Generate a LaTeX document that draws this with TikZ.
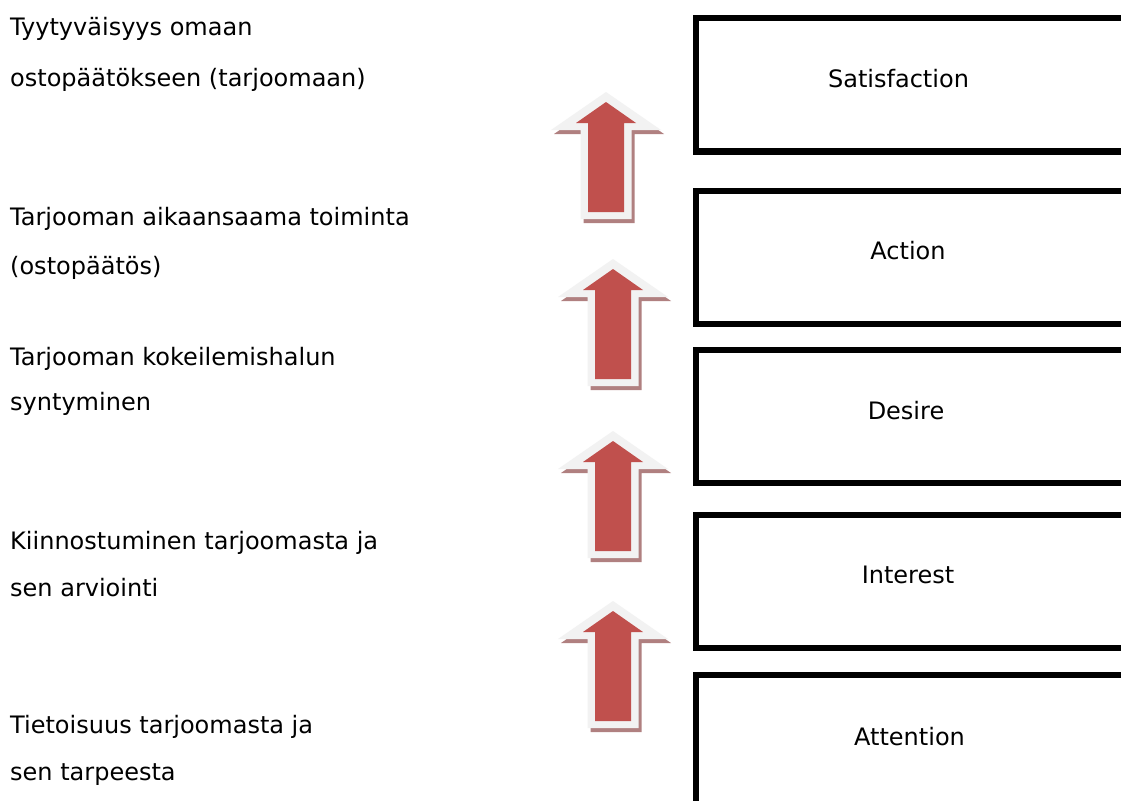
\documentclass[tikz,border=0pt]{standalone}
\usepackage{fontspec}
\setmainfont{DejaVu Sans}
\definecolor{arrowred}{HTML}{C0504D}
\definecolor{arrowrim}{HTML}{F2F2F2}
\definecolor{arrowshade}{RGB}{176,128,128}

% one upward block arrow: #1 = centre x, #2 = tip y
\newcommand{\aidaarrow}[2]{%
  \begin{scope}[shift={(#1,#2)}]
    \fill[arrowshade] (3,4) -- (58,42) -- (28.5,42) -- (28.5,131) -- (-22.5,131)
      -- (-22.5,42) -- (-52,42) -- cycle;
    \fill[arrowrim] (0,0) -- (55,38) -- (25.5,38) -- (25.5,127) -- (-25.5,127)
      -- (-25.5,38) -- (-55,38) -- cycle;
    \fill[arrowred] (0,10) -- (30,31) -- (18,31) -- (18,120) -- (-18,120)
      -- (-18,31) -- (-30,31) -- cycle;
  \end{scope}}

\tikzset{
  stagebox/.style={draw=black, line width=6.5pt, rectangle, anchor=north west,
    minimum width=440pt, minimum height=133pt, inner sep=0pt},
  stagelabel/.style={anchor=base, inner sep=0pt, font=\fontsize{24}{29}\selectfont},
  desc/.style={anchor=base west, inner sep=0pt, font=\fontsize{24}{29}\selectfont},
}

\begin{document}
\begin{tikzpicture}[x=1pt, y=-1pt]
  \useasboundingbox (0,0) rectangle (1121,800);
  \clip (0,0) rectangle (1121,800);
  \fill[white] (0,0) rectangle (1121,800);

  % stage boxes
  \node[stagebox] (bsat) at (692.5,15) {};
  \node[stagebox] (bact) at (692.5,187.5) {};
  \node[stagebox] (bdes) at (692.5,346.5) {};
  \node[stagebox] (bint) at (692.5,511.5) {};
  \node[stagebox] (batt) at (692.5,671.5) {};

  \node[stagelabel] (lsat) at (898.5,87) {Satisfaction};
  \node[stagelabel] (lact) at (908,259) {Action};
  \node[stagelabel] (ldes) at (906,419) {Desire};
  \node[stagelabel] (lint) at (908,583) {Interest};
  \node[stagelabel] (latt) at (909.5,745) {Attention};

  % arrows between the stages
  \aidaarrow{606}{92}
  \aidaarrow{613}{259}
  \aidaarrow{613}{431}
  \aidaarrow{613}{601}

  % descriptions
  \node[desc] (d1a) at (10,36) {Tyytyväisyys omaan};
  \node[desc] (d1b) at (10,86) {ostopäätökseen (tarjoomaan)};
  \node[desc] (d2a) at (10,225) {Tarjooman aikaansaama toiminta};
  \node[desc] (d2b) at (10,274) {(ostopäätös)};
  \node[desc] (d3a) at (10,365) {Tarjooman kokeilemishalun};
  \node[desc] (d3b) at (10,410) {syntyminen};
  \node[desc] (d4a) at (10,549) {Kiinnostuminen tarjoomasta ja};
  \node[desc] (d4b) at (10,596) {sen arviointi};
  \node[desc] (d5a) at (10,733) {Tietoisuus tarjoomasta ja};
  \node[desc] (d5b) at (10,780) {sen tarpeesta};
\end{tikzpicture}
\end{document}
